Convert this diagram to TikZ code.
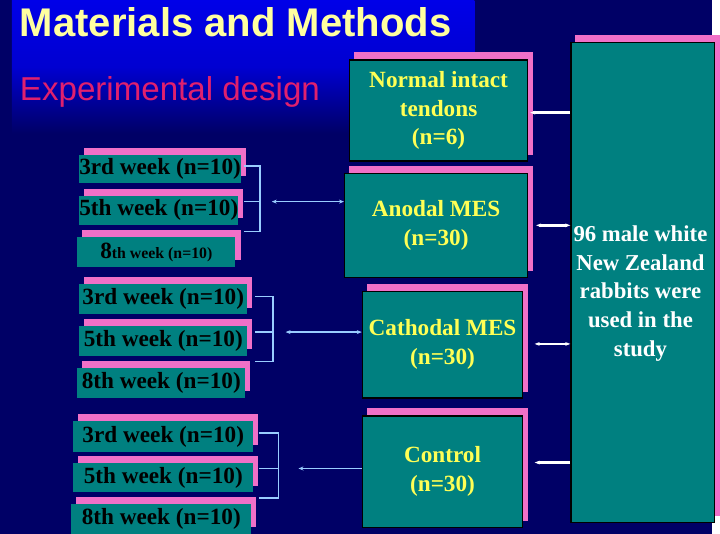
\documentclass[tikz,border=0pt]{standalone}
\usepackage{fontspec}
\setmainfont{Liberation Serif}
\newfontfamily\arialf{Liberation Sans}
\usetikzlibrary{backgrounds,arrows.meta}
\definecolor{navy}{HTML}{000066}
\definecolor{tealb}{HTML}{008080}
\definecolor{pinkb}{HTML}{F070C8}
\definecolor{yel}{HTML}{FFFF55}
\definecolor{cream}{HTML}{FFFFA0}
\definecolor{lblue}{HTML}{99CCFF}
\definecolor{expred}{HTML}{E0206E}
\tikzset{
 tb/.style={fill=tealb,draw=black,line width=1.5pt,anchor=north west,inner sep=0pt,align=center,font=\bfseries\fontsize{23.5}{29}\selectfont,text=yel},
 wk/.style={fill=tealb,anchor=north west,inner sep=0pt,font=\bfseries\fontsize{23.5}{24}\selectfont,text=black},
 shd/.style={fill=pinkb},
 br/.style={draw=lblue,line width=1.5pt},
 ar/.style={draw=lblue,line width=1.2pt},
 wa/.style={draw=white,line width=2.8pt}
}
\newcommand{\shadow}[1]{\begin{pgfonlayer}{background}\fill[shd] ([shift={(5,-7)}]#1.north west) rectangle ([shift={(5,-7)}]#1.south east);\end{pgfonlayer}}
\begin{document}
\begin{tikzpicture}[x=1pt,y=-1pt]
\pgfdeclarelayer{bg0}
\pgfsetlayers{bg0,background,main}
\begin{pgfonlayer}{bg0}
\fill[navy] (0,0) rectangle (720,540);
\shade[top color=blue!85!navy, bottom color=navy, middle color=blue!70!navy] (12,0) rectangle (480,135);
\end{pgfonlayer}
\node[anchor=west,text=cream,font=\arialf\bfseries\fontsize{40.5}{44}\selectfont,inner sep=0pt] (title) at (20,22) {Materials and Methods};
\node[anchor=west,text=expred,font=\arialf\fontsize{33.5}{36}\selectfont,inner sep=0pt] (sub) at (20,93) {Experimental design};
% main boxes
\node[tb,minimum width=180,minimum height=102] (normal) at (353,60) {Normal intact\\tendons\\(n=6)};
\node[tb,minimum width=185,minimum height=105] (anodal) at (348,175) {Anodal MES\\(n=30)};
\node[tb,minimum width=162,minimum height=108] (cath) at (366,294) {Cathodal MES\\(n=30)};
\node[tb,minimum width=162,minimum height=113] (ctrl) at (366,420) {Control\\(n=30)};
\node[tb,minimum width=145,minimum height=486] (big) at (577,42) {};
\node[text=white,align=center,font=\bfseries\fontsize{23}{29}\selectfont] (bigtext) at (648,297) {96 male white\\New Zealand\\rabbits were\\used in the\\study};
\shadow{normal}\shadow{anodal}\shadow{cath}\shadow{ctrl}\shadow{big}
% week boxes
\node[wk,minimum width=160,minimum height=28] (a3) at (80,157) {3rd week (n=10)};
\node[wk,minimum width=160,minimum height=29] (a5) at (80,198) {5th week (n=10)};
\node[wk,minimum width=160,minimum height=30] (a8) at (78,240) {\fontsize{23.5}{24}\selectfont 8\fontsize{16}{18}\selectfont th week (n=10)};
\node[wk,minimum width=170,minimum height=31] (b3) at (80,287) {3rd week (n=10)};
\node[wk,minimum width=170,minimum height=30] (b5) at (80,330) {5th week (n=10)};
\node[wk,minimum width=170,minimum height=30] (b8) at (78,372) {8th week (n=10)};
\node[wk,minimum width=182,minimum height=31] (c3) at (74,426) {3rd week (n=10)};
\node[wk,minimum width=182,minimum height=30] (c5) at (74,468) {5th week (n=10)};
\node[wk,minimum width=182,minimum height=30] (c8) at (72,510) {8th week (n=10)};
\foreach \n in {a3,a5,a8,b3,b5,b8,c3,c5,c8}{\shadow{\n}}
% brackets
\coordinate (ka1) at (247,168); \coordinate (ka2) at (247,204); \coordinate (ka3) at (247,234);
\draw[br] (ka1) -- ++(16,0) |- (ka3); \draw[br] (ka2) -- ++(16,0);
\coordinate (kb1) at (258,300); \coordinate (kb2) at (258,336); \coordinate (kb3) at (258,366);
\draw[br] (kb1) -- ++(18,0) |- (kb3); \draw[br] (kb2) -- ++(18,0);
\coordinate (kc1) at (262,438); \coordinate (kc2) at (262,474); \coordinate (kc3) at (262,504);
\draw[br] (kc1) -- ++(20,0) |- (kc3); \draw[br] (kc2) -- ++(20,0);
\coordinate (pa) at (275,204); \coordinate (pb) at (289,336); \coordinate (pc) at (302,474);
\draw[ar,{Stealth[length=5pt,width=4pt]}-{Stealth[length=5pt,width=4pt]}] (pa) -- (anodal.west |- pa);
\draw[ar,{Stealth[length=5pt,width=4pt]}-{Stealth[length=5pt,width=4pt]}] (pb) -- (cath.west |- pb);
\draw[ar,{Stealth[length=5pt,width=4pt]}-] (pc) -- (ctrl.west |- pc);
% white arrows
\draw[wa,{Stealth[length=5pt]}-] ([xshift=2pt]normal.east |- 0,114) -- (big.west |- 0,114);
\draw[wa,{Stealth[length=5pt]}-{Stealth[length=5pt]}] ([xshift=8pt]anodal.east |- 0,228) -- (big.west |- 0,228);
\draw[wa,{Stealth[length=5pt]}-{Stealth[length=5pt]}] (541,348) -- (big.west |- 0,348);
\draw[wa,{Stealth[length=5pt]}-] (541,468) -- (big.west |- 0,468);
\useasboundingbox (0,0) rectangle (720,540);
\end{tikzpicture}
\end{document}
